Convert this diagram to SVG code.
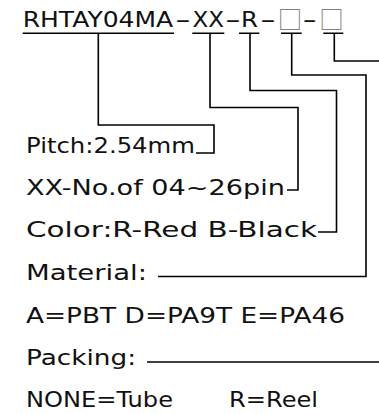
<svg xmlns="http://www.w3.org/2000/svg" width="379" height="414" viewBox="0 0 379 414">
<style>
.t{font-family:"DejaVu Sans","Liberation Sans",sans-serif;font-size:22px;fill:#111;}
.h{font-family:"DejaVu Sans","Liberation Sans",sans-serif;font-size:21px;fill:#111;}
.d{font-family:"DejaVu Sans","Liberation Sans",sans-serif;font-size:21px;fill:#111;}
.bx{font-family:"Noto Sans CJK SC","DejaVu Sans",sans-serif;font-size:24.5px;fill:#808080;text-anchor:middle;}
.ln{fill:none;stroke:#000;stroke-width:1.6;stroke-linecap:butt;stroke-linejoin:miter;}
</style>
<rect width="379" height="414" fill="#fff"/>
<g id="title">
<text class="h" x="22.7" y="27" textLength="150.5" lengthAdjust="spacingAndGlyphs">RHTAY04MA</text>
<text class="d" transform="translate(175,27) scale(2.1,1)">-</text>
<text class="h" x="192.5" y="27" textLength="31.5" lengthAdjust="spacingAndGlyphs">XX</text>
<text class="d" transform="translate(225,27) scale(2.1,1)">-</text>
<text class="h" x="241" y="27" textLength="17" lengthAdjust="spacingAndGlyphs">R</text>
<text class="d" transform="translate(260,27) scale(2.1,1)">-</text>
<text class="bx" x="290" y="28.5">□</text>
<text class="d" transform="translate(302.5,27) scale(1.9,1)">-</text>
<text class="bx" x="331.5" y="28.5">□</text>
</g>
<g id="pitch"><text class="t" x="26" y="153" textLength="169" lengthAdjust="spacingAndGlyphs">Pitch:2.54mm</text></g>
<g id="pins"><text class="t" x="26" y="195" textLength="259" lengthAdjust="spacingAndGlyphs">XX-No.of 04~26pin</text></g>
<g id="color"><text class="t" x="26" y="237" textLength="291" lengthAdjust="spacingAndGlyphs">Color:R-Red B-Black</text></g>
<g id="material"><text class="t" x="26" y="280" textLength="121" lengthAdjust="spacingAndGlyphs">Material:</text></g>
<g id="material-options"><text class="t" x="26" y="323" textLength="319" lengthAdjust="spacingAndGlyphs">A=PBT D=PA9T E=PA46</text></g>
<g id="packing"><text class="t" x="26" y="365" textLength="110" lengthAdjust="spacingAndGlyphs">Packing:</text></g>
<g id="packing-options">
<text class="t" x="26" y="407" textLength="147" lengthAdjust="spacingAndGlyphs">NONE=Tube</text>
<text class="t" x="229" y="407" textLength="89" lengthAdjust="spacingAndGlyphs">R=Reel</text>
</g>
<g id="connectors" class="ln">
<path d="M22.7,33.3H174M192.3,33.3H224.3M239,33.3H259.3M281,33.3H301.7M323.3,33.3H343.3"/>
<path d="M98.3,33.3V125H214V153H196"/>
<path d="M210,33.3V107.5H298V190H287"/>
<path d="M250,33.3V90.5H336.5V232H318"/>
<path d="M291.7,33.3V75H366V276.5H158"/>
<path d="M334.3,33.3V61H379"/>
<path d="M147,362H379"/>
</g>
</svg>
